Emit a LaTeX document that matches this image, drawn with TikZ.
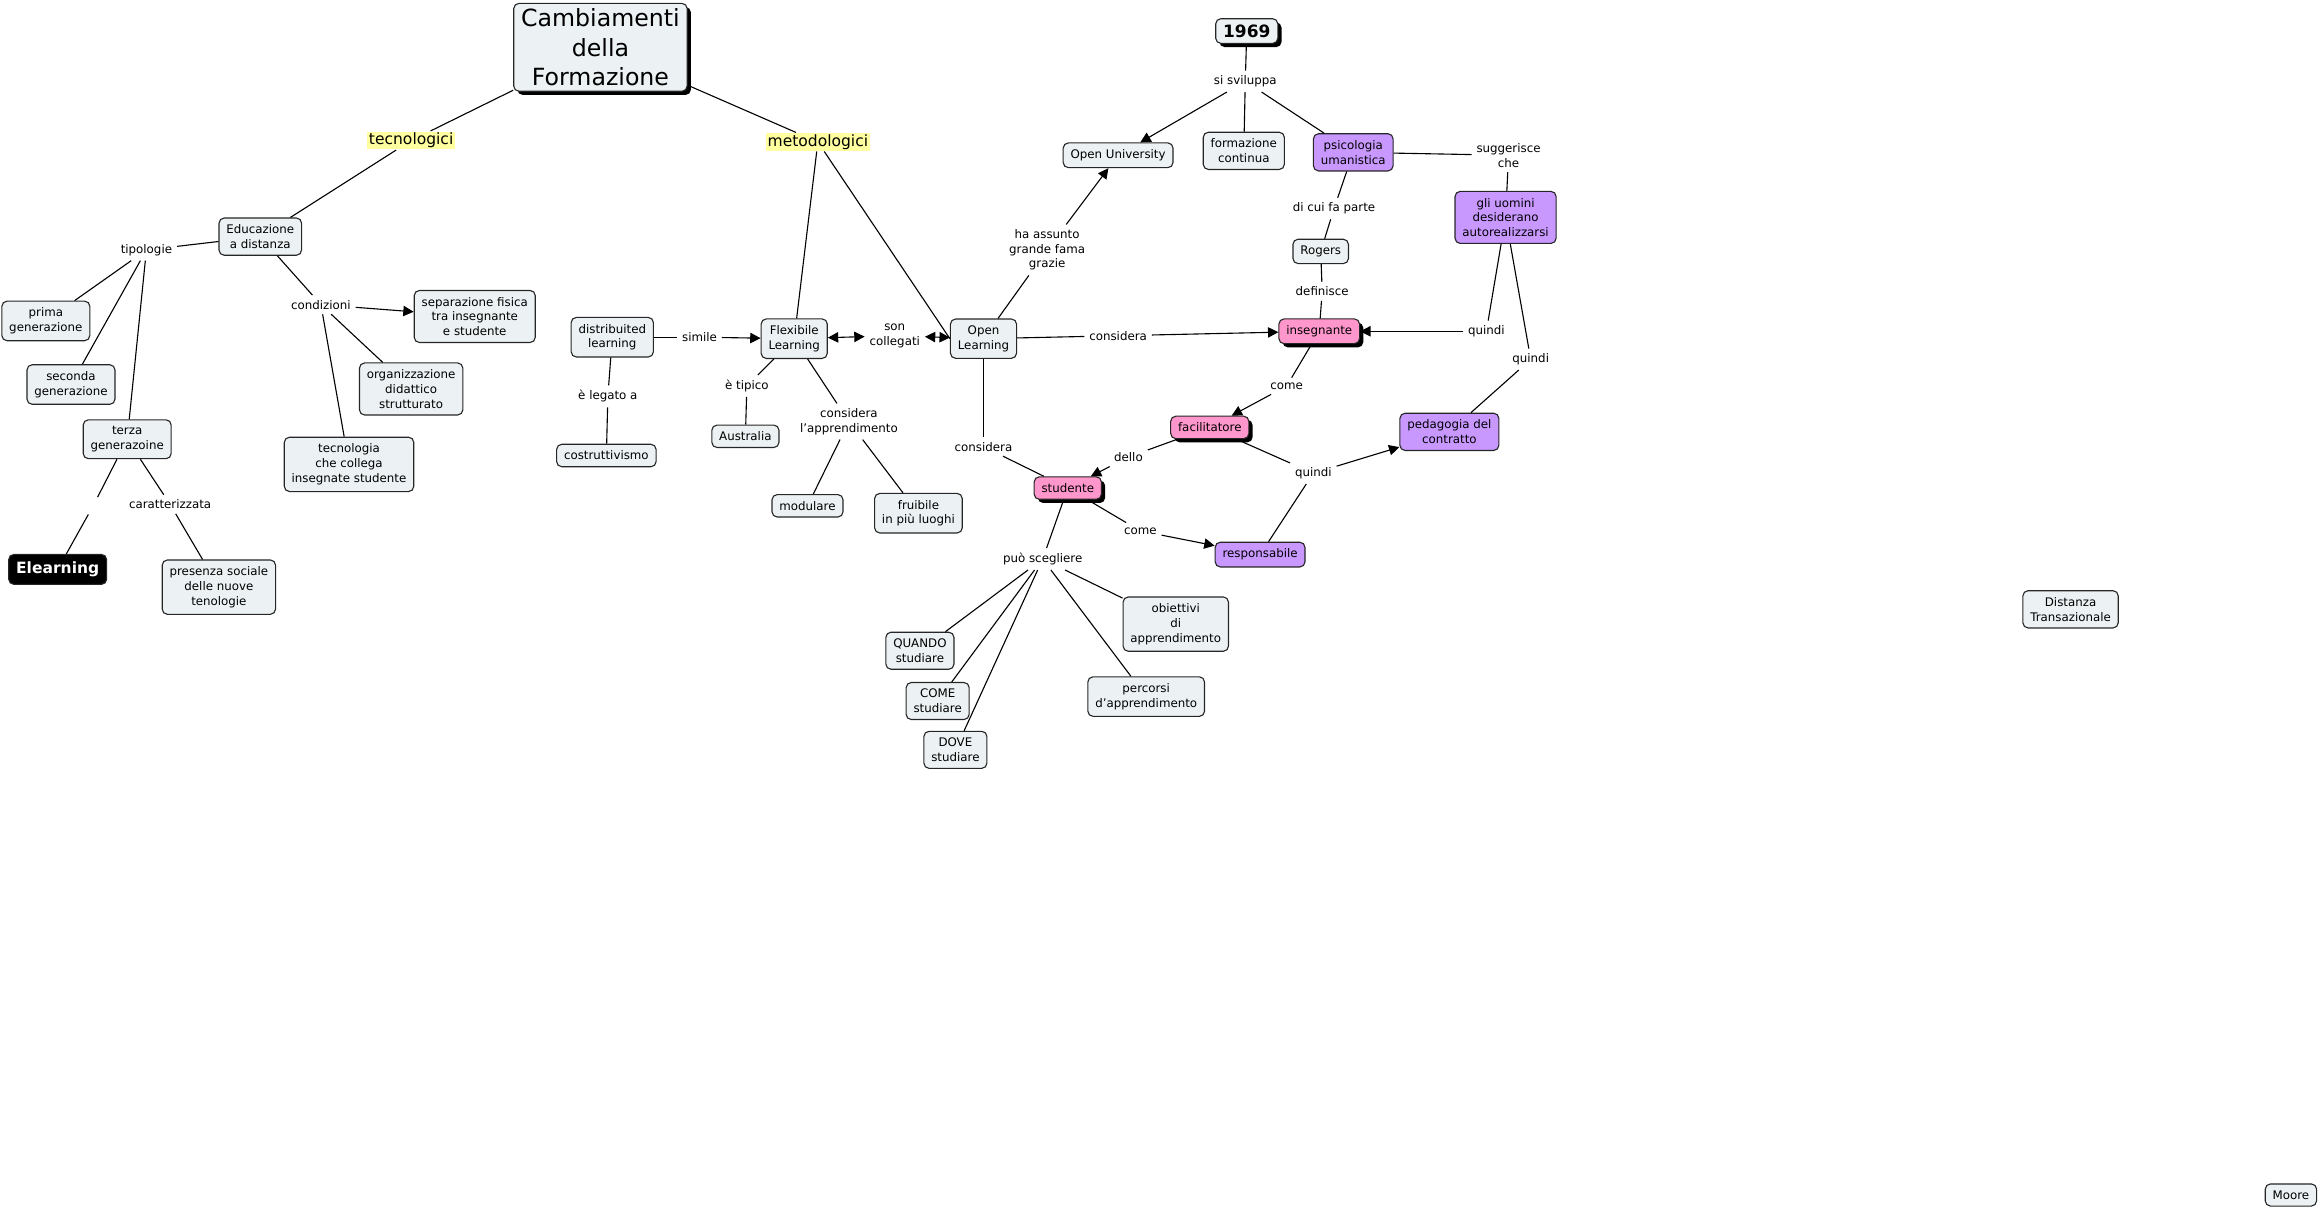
\documentclass[tikz,border=0pt]{standalone}
\usepackage{fontspec}
\setmainfont{DejaVu Sans}
\usepackage{xcolor}
\usetikzlibrary{arrows.meta, shadows}

\definecolor{cfill}{RGB}{236,242,244}
\definecolor{cpink}{RGB}{255,150,204}
\definecolor{cviolet}{RGB}{200,152,255}
\definecolor{chigh}{RGB}{255,255,160}

\begin{document}
\begin{tikzpicture}[
  x=1pt, y=-1pt,
  line width=0.75pt,
  concept/.style={draw=black!85, rounded corners=3.5pt, fill=cfill, align=center,
                  font=\fontsize{8}{10}\selectfont, inner xsep=5pt, inner ysep=4.5pt},
  shadowed/.style={drop shadow={shadow xshift=2.5pt, shadow yshift=-2.5pt, opacity=1, fill=black}},
  hot/.style={concept, fill=cpink, shadowed},
  soft/.style={concept, fill=cviolet},
  lnk/.style={align=center, font=\fontsize{8}{10}\selectfont, inner sep=3pt},
  topic/.style={font=\fontsize{10.5}{12}\selectfont, fill=chigh, inner sep=1pt},
  arr/.style={-{Triangle[length=7pt,width=7pt]}},
  darr/.style={{Triangle[length=7pt,width=7pt]}-{Triangle[length=7pt,width=7pt]}}
]
\useasboundingbox (0,0) rectangle (1568,818);

% concetti
\node[concept, shadowed, font=\fontsize{16}{20}\selectfont, inner ysep=3.5pt] (root) at (406,32) {Cambiamenti\\della\\Formazione};
\node[topic] (tecno) at (278,95) {tecnologici};
\node[topic] (metodo) at (553,96) {metodologici};

\node[concept] (edu) at (176,160) {Educazione\\a distanza};
\node[lnk] (tipol) at (99,169) {tipologie};
\node[concept] (prima) at (31,217) {prima\\generazione};
\node[concept] (seconda) at (48,260) {seconda\\generazione};
\node[concept] (terza) at (86,297) {terza\\generazoine};
\node[concept, fill=black, text=white, font=\bfseries\fontsize{10.5}{12}\selectfont, inner ysep=5pt] (elearn) at (39,385) {Elearning};
\node[lnk, minimum width=9pt, minimum height=11pt, inner sep=0pt] (vuoto) at (63,342) {};
\node[lnk] (caratt) at (115,341) {caratterizzata};
\node[concept] (presenza) at (148,397) {presenza sociale\\delle nuove\\tenologie};
\node[lnk] (cond) at (217,206) {condizioni};
\node[concept] (separ) at (321,214) {separazione fisica\\tra insegnante\\e studente};
\node[concept] (organ) at (278,263) {organizzazione\\didattico\\strutturato};
\node[concept] (tecnol) at (236,314) {tecnologia\\che collega\\insegnate studente};

\node[concept] (distrib) at (414,228) {distribuited\\learning};
\node[lnk] (simile) at (473,228) {simile};
\node[concept] (flex) at (537,229) {Flexibile\\Learning};
\node[lnk] (soncoll) at (605,227) {son\\collegati};
\node[concept] (openl) at (665,229) {Open\\Learning};
\node[lnk] (legato) at (411,268) {è legato a};
\node[concept] (costr) at (410,308) {costruttivismo};
\node[lnk] (tipico) at (505,261) {è tipico};
\node[concept] (austr) at (504,295) {Australia};
\node[lnk] (consapp) at (574,285) {considera\\l'apprendimento};
\node[concept] (modul) at (546,342) {modulare};
\node[concept] (fruib) at (621,347) {fruibile\\in più luoghi};

\node[lnk] (considS) at (665,302) {considera};
\node[hot] (stud) at (722,330) {studente};
\node[lnk] (sceglie) at (705,378) {può scegliere};
\node[concept] (quando) at (622,440) {QUANDO\\studiare};
\node[concept] (comeS) at (634,474) {COME\\studiare};
\node[concept] (dove) at (646,507) {DOVE\\studiare};
\node[concept] (obiett) at (795,422) {obiettivi\\di\\apprendimento};
\node[concept] (percorsi) at (775,471) {percorsi\\d'apprendimento};
\node[lnk] (comeR) at (771,359) {come};
\node[soft] (resp) at (852,375) {responsabile};

\node[hot] (facil) at (818,289) {facilitatore};
\node[lnk] (dello) at (763,309) {dello};
\node[lnk] (quindiP) at (888,320) {quindi};
\node[soft] (pedag) at (980,292) {pedagogia del\\contratto};
\node[hot] (insegn) at (892,224) {insegnante};
\node[lnk] (considI) at (756,227) {considera};
\node[lnk] (comeF) at (870,261) {come};
\node[lnk] (defin) at (894,197) {definisce};
\node[concept] (rogers) at (893,170) {Rogers};
\node[lnk] (dicui) at (902,141) {di cui fa parte};
\node[soft] (psico) at (915,103) {psicologia\\umanistica};
\node[lnk] (sugg) at (1020,105) {suggerisce\\che};
\node[soft] (uomini) at (1018,147) {gli uomini\\desiderano\\autorealizzarsi};
\node[lnk] (quindiI) at (1005,224) {quindi};
\node[lnk] (quindiC) at (1035,243) {quindi};

\node[concept, shadowed, font=\bfseries\fontsize{11.5}{13}\selectfont, inner ysep=4pt] (anno) at (843,21) {1969};
\node[lnk] (svil) at (842,55) {si sviluppa};
\node[concept] (openu) at (756,105) {Open University};
\node[concept] (formaz) at (841,102) {formazione\\continua};
\node[lnk] (fama) at (708,169) {ha assunto\\grande fama\\grazie};

\node[concept] (distanza) at (1400,412) {Distanza\\Transazionale};
\node[concept] (moore) at (1549,808) {Moore};

% collegamenti
\draw (root) -- (tecno);
\draw (root) -- (metodo);
\draw (tecno) -- (edu);
\draw (metodo) -- (flex);
\draw (metodo) -- (openl.west);

\draw (edu) -- (tipol);
\foreach \t in {prima, seconda, terza}
  \draw (tipol) -- (\t);
\draw (edu) -- (cond);
\draw[arr] (cond) -- (separ);
\draw (cond) -- (organ);
\draw (cond) -- (tecnol);
\draw (terza) -- (vuoto);
\draw (vuoto) -- (elearn);
\draw (terza) -- (caratt);
\draw (caratt) -- (presenza);

\draw (distrib) -- (simile);
\draw[arr] (simile) -- (flex);
\draw (distrib) -- (legato);
\draw (legato) -- (costr);
\draw[darr] (flex) -- (soncoll);
\draw[darr] (soncoll) -- (openl);
\draw (flex) -- (tipico);
\draw (tipico) -- (austr);
\draw (flex) -- (consapp);
\foreach \t in {modul, fruib}
  \draw (consapp) -- (\t);

\draw (openl) -- (considS);
\draw (considS) -- (stud);
\draw (openl) -- (considI);
\draw[arr] (considI) -- (insegn);
\draw (openl) -- (fama);
\draw[arr] (fama) -- (openu);

\draw (stud) -- (sceglie);
\foreach \t in {quando, comeS, dove, obiett, percorsi}
  \draw (sceglie) -- (\t);
\draw (stud) -- (comeR);
\draw[arr] (comeR) -- (resp);

\draw (anno) -- (svil);
\draw[arr] (svil) -- (openu);
\draw (svil) -- (formaz);
\draw (svil) -- (psico);
\draw (psico) -- (dicui);
\draw (dicui) -- (rogers);
\draw (rogers) -- (defin);
\draw (defin) -- (insegn);
\draw (psico) -- (sugg);
\draw (sugg) -- (uomini);
\draw (uomini) -- (quindiI);
\draw[arr] (quindiI) -- (insegn);
\draw (uomini) -- (quindiC);
\draw (quindiC) -- (pedag);

\draw (insegn) -- (comeF);
\draw[arr] (comeF) -- (facil);
\draw (facil) -- (dello);
\draw[arr] (dello) -- (stud);
\draw (facil) -- (quindiP);
\draw (resp) -- (quindiP);
\draw[arr] (quindiP) -- (pedag);

\end{tikzpicture}
\end{document}
